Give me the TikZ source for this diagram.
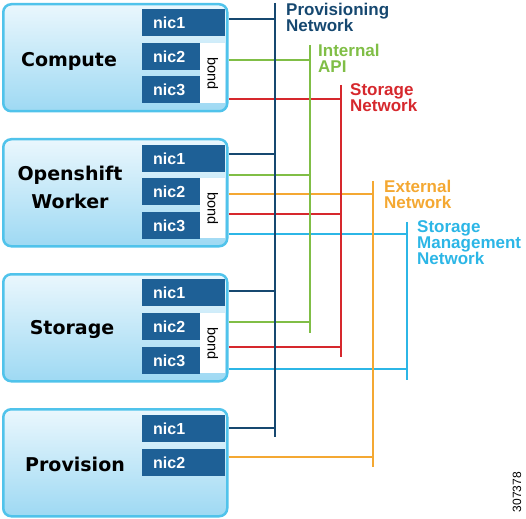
\documentclass[tikz,border=0pt]{standalone}
\usepackage{fontspec}
\setmainfont{Liberation Sans}
\newfontfamily\hostfont{DejaVu Sans}
\definecolor{provc}{RGB}{22,72,112}
\definecolor{apic}{RGB}{128,190,70}
\definecolor{storc}{RGB}{214,40,45}
\definecolor{extc}{RGB}{244,168,50}
\definecolor{mgmtc}{RGB}{44,182,230}
\definecolor{nicc}{RGB}{30,96,150}
\definecolor{boxedge}{RGB}{80,195,235}
\definecolor{boxtop}{RGB}{234,247,253}
\definecolor{boxbot}{RGB}{158,217,243}
\pgfdeclarelayer{bg}
\pgfsetlayers{bg,main}
\begin{document}
\begin{tikzpicture}[x=1pt,y=-1pt,
  hostbox/.style={draw=boxedge, line width=2.5pt, rounded corners=8pt, top color=boxtop, bottom color=boxbot, minimum width=224pt, minimum height=107pt, anchor=north west, inner sep=0pt},
  hostlabel/.style={font=\hostfont\bfseries\fontsize{19}{28}\selectfont, align=center, anchor=base, inner sep=0pt},
  nicbox/.style={fill=nicc, text=white, font=\bfseries\fontsize{16}{16}\selectfont, anchor=north west, minimum height=27pt, inner ysep=0pt, inner xsep=11pt, align=left},
  nicwide/.style={nicbox, text width=61pt},
  nicnarrow/.style={nicbox, text width=36pt},
  bondbox/.style={fill=white, minimum width=25pt, minimum height=60pt, anchor=north west, inner sep=0pt, font=\fontsize{14.5}{14.5}\selectfont},
  netlabel/.style={font=\bfseries\fontsize{17}{16}\selectfont, align=left, anchor=base west, inner sep=0pt},
  hline/.style={line width=2pt},
  vline/.style={line width=2.5pt}]
\useasboundingbox (0,0) rectangle (526,518);

% host boxes
\node[hostbox] (compute) at (2,3) {};
\node[hostbox] (worker) at (2,138) {};
\node[hostbox] (storage) at (2,273) {};
\node[hostbox] (provision) at (2,408) {};

\node[hostlabel] (computetxt) at (69,67) {Compute};
\node[hostlabel] (workertxt) at (70,208) {Openshift\\Worker};
\node[hostlabel] (storagetxt) at (72,334) {Storage};
\node[hostlabel] (provisiontxt) at (75,471) {Provision};

% nics
\node[nicwide] (c1) at (142,9) {nic1};
\node[nicnarrow] (c2) at (142,43) {nic2};
\node[nicnarrow] (c3) at (142,76) {nic3};
\node[bondbox] (cb) at (200,43) {\rotatebox{-90}{bond}};

\node[nicwide] (w1) at (142,145) {nic1};
\node[nicnarrow] (w2) at (142,178) {nic2};
\node[nicnarrow] (w3) at (142,212) {nic3};
\node[bondbox] (wb) at (200,178) {\rotatebox{-90}{bond}};

\node[nicwide] (s1) at (142,279) {nic1};
\node[nicnarrow] (s2) at (142,313) {nic2};
\node[nicnarrow] (s3) at (142,347) {nic3};
\node[bondbox] (sb) at (200,313) {\rotatebox{-90}{bond}};

\node[nicwide] (p1) at (142,415) {nic1};
\node[nicwide] (p2) at (142,449) {nic2};

% buses
\coordinate (provT) at (275,3);   \coordinate (provB) at (275,437);
\coordinate (apiT) at (310,45);   \coordinate (apiB) at (310,333);
\coordinate (storT) at (341,85);  \coordinate (storB) at (341,357);
\coordinate (extT) at (373,181);  \coordinate (extB) at (373,467);
\coordinate (mgmtT) at (407,222); \coordinate (mgmtB) at (407,380);

\node[netlabel, text=provc] (provlbl) at (286,32) {Provisioning\\Network};
\node[netlabel, text=apic] (apilbl) at (318,73) {Internal\\API};
\node[netlabel, text=storc] (storlbl) at (350,112) {Storage\\Network};
\node[netlabel, text=extc] (extlbl) at (384,208) {External\\Network};
\node[netlabel, text=mgmtc] (mgmtlbl) at (417,264) {Storage\\Management\\Network};

\node[rotate=90, font=\fontsize{12}{12}\selectfont, inner sep=0pt] (fignum) at (517,492) {307378};

\begin{pgfonlayer}{bg}
  % horizontals
  \draw[hline, provc] (compute.east |- 0,19) -- (provT |- 0,19);
  \draw[hline, apic] (compute.east |- 0,60) -- (apiT |- 0,60);
  \draw[hline, storc] (compute.east |- 0,99) -- (storT |- 0,99);

  \draw[hline, provc] (worker.east |- 0,154) -- (provT |- 0,154);
  \draw[hline, apic] (worker.east |- 0,175) -- (apiT |- 0,175);
  \draw[hline, extc] (worker.east |- 0,194) -- (extT |- 0,194);
  \draw[hline, storc] (worker.east |- 0,214) -- (storT |- 0,214);
  \draw[hline, mgmtc] (worker.east |- 0,234) -- (mgmtT |- 0,234);

  \draw[hline, provc] (storage.east |- 0,291) -- (provT |- 0,291);
  \draw[hline, apic] (storage.east |- 0,322) -- (apiT |- 0,322);
  \draw[hline, storc] (storage.east |- 0,347) -- (storT |- 0,347);
  \draw[hline, mgmtc] (storage.east |- 0,369) -- (mgmtT |- 0,369);

  \draw[hline, provc] (provision.east |- 0,428) -- (provT |- 0,428);
  \draw[hline, extc] (provision.east |- 0,457) -- (extT |- 0,457);

  % verticals
  \draw[vline, provc] (provT) -- (provB);
  \draw[vline, apic] (apiT) -- (apiB);
  \draw[vline, storc] (storT) -- (storB);
  \draw[vline, extc] (extT) -- (extB);
  \draw[vline, mgmtc] (mgmtT) -- (mgmtB);
\end{pgfonlayer}
\end{tikzpicture}
\end{document}
